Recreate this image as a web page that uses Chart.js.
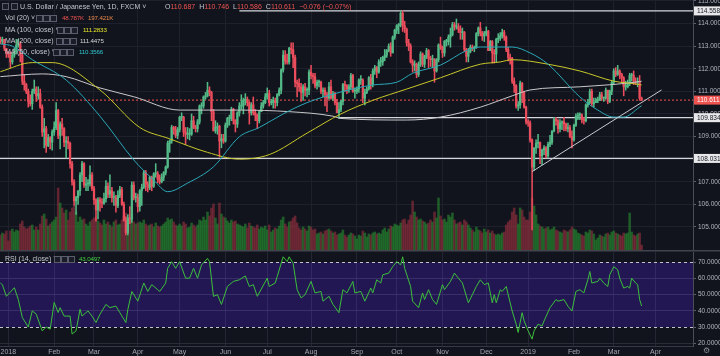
<!DOCTYPE html>
<html><head><meta charset="utf-8"><title>USDJPY 1D</title>
<script src="https://cdn.jsdelivr.net/npm/chart.js@4.4.1/dist/chart.umd.min.js"></script>
<style>
html,body{margin:0;padding:0;background:#12141d;overflow:hidden}
#wrap{position:relative;width:720px;height:356px;font-family:"Liberation Sans",Arial,sans-serif}
canvas{position:absolute;left:0}
#c1{top:0}
#c2{top:250px}
.t{position:absolute;font-size:7px;line-height:9px;color:#c3c6ce;white-space:nowrap;z-index:5}
.n{font-size:6.2px;letter-spacing:-0.15px}
.ic{position:absolute;width:5px;height:5px;border:1px solid #5a5e6c;background:#1a1d27;z-index:5}
.r{color:#ef5350}
.g{margin-left:4px}
</style></head><body>
<div id="wrap">
<canvas id="c1" width="720" height="250"></canvas>
<canvas id="c2" width="720" height="106"></canvas>

<span class="ic" style="left:2px;top:3px"></span><span class="ic" style="left:11px;top:3px"></span>
<span class="t" style="left:20px;top:1.5px">U.S. Dollar / Japanese Yen, 1D, FXCM ˅</span>
<span class="t" style="left:165px;top:1.5px">O<span class="r">110.687</span><span class="g">H</span><span class="r">110.746</span><span class="g">L</span><span class="r">110.586</span><span class="g">C</span><span class="r">110.611</span><span class="r g">−0.076 (−0.07%)</span></span>

<span class="t" style="left:5px;top:13px">Vol (20) ˅</span>
<span class="ic" style="left:36px;top:15px"></span><span class="ic" style="left:43px;top:15px"></span><span class="ic" style="left:50px;top:15px"></span>
<span class="t n" style="left:62px;top:13px;color:#ef5350">48.787K</span>
<span class="t n" style="left:88px;top:13px;color:#e8884a">197.421K</span>

<span class="t" style="left:5px;top:24.5px">MA (100, close) ˅</span>
<span class="ic" style="left:57px;top:26.5px"></span><span class="ic" style="left:64px;top:26.5px"></span><span class="ic" style="left:71px;top:26.5px"></span>
<span class="t n" style="left:83px;top:24.5px;color:#e6e629">111.2833</span>

<span class="t" style="left:5px;top:36px">MA (200, close) ˅</span>
<span class="ic" style="left:56px;top:38px"></span><span class="ic" style="left:63px;top:38px"></span><span class="ic" style="left:70px;top:38px"></span>
<span class="t n" style="left:80px;top:36px;color:#d6d6d6">111.4475</span>

<span class="t" style="left:5px;top:47px">MA (50, close) ˅</span>
<span class="ic" style="left:53px;top:49px"></span><span class="ic" style="left:60px;top:49px"></span><span class="ic" style="left:67px;top:49px"></span>
<span class="t n" style="left:79px;top:47px;color:#2ec6cf">110.3566</span>

<span class="t" style="left:5px;top:254px">RSI (14, close) ˅</span>
<span class="ic" style="left:54px;top:256px"></span><span class="ic" style="left:61px;top:256px"></span><span class="ic" style="left:68px;top:256px"></span>
<span class="t n" style="left:79px;top:254px;color:#3fcf3f">43.0497</span>
<span class="t" style="left:703px;top:346px;font-size:8px;color:#8a8d96">⚙</span>
</div>
<script>
// ---- categories: trading days from 26 Dec 2017 ----
const firstDay = [2017, 11, 26];
const slotCount = 348;
const monthNames = ['Jan','Feb','Mar','Apr','May','Jun','Jul','Aug','Sep','Oct','Nov','Dec'];

// ---- daily candles (index 0 = 26 Dec 2017, last = 21 Mar 2019) ----
const opens = [
113.3,113.2,113.3,112.9,112.7,112.65,112.3,112.6,112.75,113.05,
113.1,112.6,111.45,111.3,111.0,110.55,110.45,111.0,111.1,110.8,
110.9,110.3,109.2,109.35,108.6,108.95,108.75,109.2,109.4,110.15,
109.05,109.55,109.35,108.75,108.8,108.7,107.8,107.0,106.15,106.3,
106.6,107.3,107.8,106.85,106.9,106.9,107.3,106.7,106.2,105.75,
106.2,106.1,106.05,106.25,106.8,106.45,106.6,106.3,106.3,105.95,
106.4,106.65,106.0,105.3,104.75,105.4,105.35,106.85,106.3,106.3,
105.9,106.6,106.75,107.4,106.9,106.75,107.2,106.8,107.35,107.35,
107.1,107.0,107.2,107.4,107.65,108.7,108.8,109.4,109.3,109.05,
109.3,109.85,109.85,109.2,109.1,109.1,109.1,109.7,109.4,109.35,
109.65,110.35,110.35,110.75,110.8,111.05,110.95,110.1,109.25,109.4,
109.45,108.8,108.9,108.8,109.5,109.8,109.8,110.2,109.7,109.55,
110.05,110.35,110.35,110.6,110.65,110.5,110.05,110.4,110.05,109.95,
109.7,110.1,110.35,110.5,110.75,110.9,110.5,110.5,110.6,110.5,
110.85,111.05,111.95,112.6,112.35,112.3,112.9,112.85,112.5,111.4,
111.35,111.2,110.95,111.2,111.05,111.05,111.85,111.7,111.65,111.25,
111.4,111.4,111.0,111.05,110.85,110.7,111.2,110.7,110.9,110.5,
110.05,110.2,110.55,111.3,111.25,111.1,111.2,111.7,111.0,111.0,
111.1,111.5,111.5,110.7,110.95,111.1,111.6,111.3,111.9,112.05,
111.85,112.3,112.3,112.5,112.6,112.8,113.0,112.7,113.4,113.7,
113.9,113.95,114.45,113.9,113.75,113.15,113.0,112.3,112.15,112.2,
111.75,112.2,112.65,112.2,112.55,112.8,112.45,112.4,112.4,111.9,
112.4,113.05,112.95,112.7,113.2,113.2,113.4,113.5,113.95,113.85,
113.85,113.75,113.6,113.6,112.85,112.55,112.75,112.95,112.9,112.95,
113.55,113.8,113.6,113.45,113.55,113.65,112.8,113.2,112.7,112.65,
113.3,113.35,113.45,113.6,113.4,112.85,112.5,112.45,111.45,111.25,
110.35,110.4,111.35,110.95,110.3,109.65,109.6,108.85,107.65,108.5,
108.7,108.75,108.15,108.4,108.5,108.15,108.65,108.75,109.25,109.75,
109.7,109.35,109.6,109.65,109.55,109.35,109.4,109.0,108.85,109.5,
109.9,109.95,109.95,109.75,109.7,110.4,110.5,111.0,110.45,110.5,
110.6,110.6,110.85,110.7,110.7,111.05,110.55,111.0,111.4,111.9,
111.75,111.9,111.75,111.6,111.2,111.2,111.35,111.7,111.7,111.45,
111.4,111.4,110.687];
const highs = [
113.4,113.4,113.3,112.9,112.75,112.75,112.7,112.9,113.3,113.3,
113.2,112.7,111.75,111.35,111.1,110.85,111.1,111.5,111.2,111.2,
111.1,110.4,109.8,109.45,109.1,109.0,109.3,109.65,110.5,110.2,
109.65,109.8,109.4,109.0,109.0,108.75,107.9,107.1,106.35,106.6,
107.4,107.9,107.85,107.2,107.1,107.7,107.4,106.8,106.25,106.3,
106.3,106.25,106.5,107.05,106.95,107.3,106.75,106.55,106.4,106.6,
106.8,106.75,106.1,105.45,105.55,105.9,107.0,107.0,106.5,106.45,
106.65,106.9,107.5,107.5,107.0,107.25,107.25,107.4,107.8,107.45,
107.3,107.35,107.45,107.7,108.8,108.85,109.5,109.45,109.45,109.4,
109.9,110.05,109.9,109.4,109.4,109.35,110.0,109.9,109.5,109.75,
110.4,110.5,110.8,110.95,111.4,111.2,111.0,110.2,109.7,109.6,
109.5,109.1,109.1,109.6,109.85,109.95,110.3,110.25,109.75,110.1,
110.5,110.85,110.7,110.9,110.75,110.55,110.5,110.75,110.2,110.0,
110.15,110.5,110.6,110.9,111.15,111.05,110.65,110.75,110.7,110.9,
111.15,112.0,112.8,112.8,112.65,112.95,113.15,113.15,112.6,111.5,
111.55,111.35,111.3,111.35,111.15,111.95,112.15,111.8,111.8,111.5,
111.5,111.45,111.15,111.15,110.95,111.4,111.5,111.0,110.95,110.65,
110.5,110.6,111.35,111.45,111.3,111.3,111.8,111.75,111.15,111.2,
111.55,111.7,111.55,111.1,111.2,111.65,111.75,112.0,112.15,112.1,
112.4,112.5,112.55,112.85,112.85,113.1,113.15,113.45,113.75,113.95,
114.0,114.55,114.56,114.1,113.8,113.3,113.1,112.4,112.35,112.25,
112.3,112.75,112.7,112.6,112.9,112.85,112.55,112.6,112.45,112.45,
113.1,113.4,113.0,113.25,113.3,113.5,113.8,114.05,114.05,114.2,
114.0,113.9,113.8,113.65,112.9,112.9,113.05,113.05,113.0,113.6,
113.85,114.05,113.65,113.65,113.85,113.7,113.25,113.25,112.85,113.35,
113.55,113.6,113.75,113.7,113.45,112.95,112.65,112.5,111.6,111.3,
110.55,111.45,111.4,111.0,110.35,109.75,109.7,108.9,108.5,108.85,
109.1,108.75,108.45,108.6,108.55,108.75,109.05,109.25,109.85,109.85,
109.75,109.75,109.7,109.85,109.6,109.6,109.5,109.25,109.55,110.0,
110.05,110.05,110.0,109.85,110.45,110.65,111.1,111.1,110.7,110.7,
110.75,110.95,110.95,110.75,111.15,111.05,111.05,111.45,112.0,112.05,
112.15,111.95,111.8,111.65,111.45,111.5,111.8,111.8,111.9,111.6,
111.6,111.7,110.746];
const lows = [
113.1,113.1,112.8,112.5,112.5,112.05,112.2,112.5,112.65,112.95,
112.3,111.3,111.05,110.9,110.3,110.35,110.2,110.9,110.55,110.65,
110.25,109.0,108.5,108.3,108.55,108.45,108.4,109.05,109.3,108.9,
108.45,109.05,108.55,108.05,108.45,107.6,106.85,105.95,105.55,106.0,
106.4,107.0,106.75,106.6,106.6,106.8,106.6,106.0,105.25,105.35,
105.7,105.85,106.0,106.1,106.3,106.3,106.1,105.95,105.65,105.85,
106.3,105.95,105.25,104.65,104.65,105.15,105.2,106.2,106.1,105.65,
105.7,105.95,106.7,106.6,106.55,106.65,106.6,106.75,107.2,106.95,
106.9,106.95,107.05,107.3,107.6,108.3,108.7,109.1,108.95,108.9,
109.2,109.7,109.0,108.65,108.9,108.85,109.05,109.35,109.2,109.2,
109.55,110.0,110.25,110.65,110.75,110.8,109.7,109.25,109.15,109.1,
108.1,108.5,108.7,108.75,109.4,109.5,109.7,109.55,109.2,109.4,
109.9,110.2,110.0,110.4,110.35,109.55,109.95,109.95,109.7,109.35,
109.6,110.1,110.25,110.45,110.65,110.35,110.4,110.25,110.25,110.35,
110.8,110.9,111.85,112.2,112.2,112.2,112.65,112.05,111.2,110.75,
111.0,110.55,110.6,110.8,110.75,110.85,111.55,111.35,111.15,111.1,
111.2,110.9,110.75,110.35,110.1,110.65,110.65,110.6,110.4,110.05,
109.8,110.1,110.4,111.0,110.9,110.95,111.1,110.95,110.7,110.9,
110.95,111.3,110.5,110.4,110.9,111.05,111.1,111.2,111.75,111.6,
111.8,112.1,112.15,112.35,112.5,112.75,112.55,112.7,113.3,113.55,
113.55,113.85,113.65,113.6,113.0,112.8,112.25,111.85,111.9,111.6,
111.65,112.1,112.1,112.05,112.45,112.05,112.1,112.05,111.4,111.85,
112.3,112.85,112.5,112.55,113.0,113.05,112.95,113.45,113.7,113.75,
113.6,113.3,113.3,112.75,112.3,112.3,112.7,112.8,112.75,112.9,
113.45,113.45,113.25,113.2,113.45,112.8,112.8,112.25,112.25,112.3,
113.15,113.25,113.35,113.25,112.75,112.35,112.2,111.35,110.95,110.25,
110.15,110.25,110.5,110.25,109.55,109.45,108.75,104.87,107.5,108.25,
108.5,107.8,107.75,108.2,108.05,108.05,108.55,108.65,109.2,109.5,
109.15,109.2,109.3,109.25,109.25,109.2,108.95,108.5,108.8,109.45,
109.75,109.75,109.6,109.55,109.65,110.3,110.45,110.35,110.3,110.5,
110.5,110.6,110.6,110.55,110.65,110.45,110.5,110.85,111.3,111.65,
111.7,111.55,111.4,110.8,111.05,111.15,111.25,111.45,111.3,111.3,
111.2,110.6,110.586];
const closes = [
113.2,113.3,112.9,112.7,112.65,112.3,112.6,112.75,113.05,113.1,
112.6,111.45,111.3,111.0,110.55,110.45,111.0,111.1,110.8,110.9,
110.3,109.2,109.35,108.6,108.95,108.75,109.2,109.4,110.15,109.05,
109.55,109.35,108.75,108.8,108.7,107.8,107.0,106.15,106.3,106.6,
107.3,107.8,106.85,106.9,106.9,107.3,106.7,106.2,105.75,106.2,
106.1,106.05,106.25,106.8,106.45,106.6,106.3,106.3,105.95,106.4,
106.65,106.0,105.3,104.75,105.4,105.35,106.85,106.3,106.3,105.9,
106.6,106.75,107.4,106.9,106.75,107.2,106.8,107.35,107.35,107.1,
107.0,107.2,107.4,107.65,108.7,108.8,109.4,109.3,109.05,109.3,
109.85,109.85,109.2,109.1,109.1,109.1,109.7,109.4,109.35,109.65,
110.35,110.35,110.75,110.8,111.05,110.95,110.1,109.25,109.4,109.45,
108.8,108.9,108.8,109.5,109.8,109.8,110.2,109.7,109.55,110.05,
110.35,110.35,110.6,110.65,110.5,110.05,110.4,110.05,109.95,109.7,
110.1,110.35,110.5,110.75,110.9,110.5,110.5,110.6,110.5,110.85,
111.05,111.95,112.6,112.35,112.3,112.9,112.85,112.5,111.4,111.35,
111.2,110.95,111.2,111.05,111.05,111.85,111.7,111.65,111.25,111.4,
111.4,111.0,111.05,110.85,110.7,111.2,110.7,110.9,110.5,110.05,
110.2,110.55,111.3,111.25,111.1,111.2,111.7,111.0,111.0,111.1,
111.5,111.5,110.7,110.95,111.1,111.6,111.3,111.9,112.05,111.85,
112.3,112.3,112.5,112.6,112.8,113.0,112.7,113.4,113.7,113.9,
113.95,114.45,113.9,113.75,113.15,113.0,112.3,112.15,112.2,111.75,
112.2,112.65,112.2,112.55,112.8,112.45,112.4,112.4,111.9,112.4,
113.05,112.95,112.7,113.2,113.2,113.4,113.5,113.95,113.85,113.85,
113.75,113.6,113.6,112.85,112.55,112.75,112.95,112.9,112.95,113.55,
113.8,113.6,113.45,113.55,113.65,112.8,113.2,112.7,112.65,113.3,
113.35,113.45,113.6,113.4,112.85,112.5,112.45,111.45,111.25,110.35,
110.4,111.35,110.95,110.3,109.65,109.6,108.85,107.65,108.5,108.7,
108.75,108.15,108.4,108.5,108.15,108.65,108.75,109.25,109.75,109.7,
109.35,109.6,109.65,109.55,109.35,109.4,109.0,108.85,109.5,109.9,
109.95,109.95,109.75,109.7,110.4,110.5,111.0,110.45,110.5,110.6,
110.6,110.85,110.7,110.7,111.05,110.55,111.0,111.4,111.9,111.75,
111.9,111.75,111.6,111.2,111.2,111.35,111.7,111.7,111.45,111.4,
111.4,110.7,110.611];
// volume in thousands
const volumes = [
150,170,160,190,90,190,210,180,200,190,
260,290,230,210,220,240,250,200,230,200,
260,340,360,310,240,260,280,300,330,620,
470,420,370,400,300,380,420,440,380,280,
330,300,310,260,240,280,300,320,330,290,
270,250,300,260,280,250,230,280,300,250,
260,300,340,370,320,300,360,280,260,270,
280,270,300,260,240,250,260,230,270,240,
230,240,260,280,320,300,310,280,250,240,
260,240,280,260,220,230,270,250,230,250,
300,290,330,300,380,340,420,460,320,260,
470,360,330,320,290,270,300,280,290,260,
250,240,230,260,220,270,240,230,220,250,
210,230,220,240,200,250,180,200,220,210,
240,300,330,260,230,280,290,320,340,270,
220,200,230,210,190,240,230,200,210,160,
170,180,160,190,200,210,190,170,180,150,
160,170,200,150,130,150,170,160,140,110,
150,140,190,170,130,160,150,170,180,160,
170,160,200,220,180,210,240,230,260,250,
240,270,300,310,260,300,350,490,380,330,
300,310,290,280,260,270,300,280,380,320,
520,340,300,310,280,350,330,370,300,260,
270,280,250,300,280,250,220,200,180,230,
200,190,170,210,180,200,170,190,160,150,
160,150,170,180,250,280,300,380,420,350,
260,420,400,330,300,300,380,520,440,350,
260,240,230,210,220,230,200,210,230,200,
190,180,170,200,190,180,200,230,210,200,
170,160,150,140,180,170,200,190,160,100,
120,150,140,130,160,170,150,180,190,170,
160,150,140,170,160,170,370,180,150,140,
160,170,48.787];

// moving averages (bar index, value)
const ma100At  = [0,16,26,50,70,85,104,120,135,154,171,187,204,221,241,251,257,275,291,308,321,322];
const ma100Val = [111.87,112.27,112.27,111.06,109.4,108.9,108.3,108.0,108.2,109.15,110.0,110.6,111.1,111.6,112.2,112.3,112.4,112.2,111.9,111.45,111.3,111.28];
const ma200At  = [0,21,33,50,67,90,120,145,167,171,204,221,241,257,266,291,321,322];
const ma200Val = [111.65,111.77,111.65,111.15,110.76,110.17,110.17,110.1,109.9,109.8,109.73,109.86,110.3,110.8,111.06,111.2,111.43,111.4475];
const ma50At   = [0,6,16,33,50,67,77,84,94,107,120,130,142,154,171,187,199,207,221,234,241,257,266,275,291,300,308,313,321,322];
const ma50Val  = [113.1,113.0,112.4,111.5,109.9,107.96,107.07,106.56,106.94,107.66,108.99,109.4,110.0,110.5,110.97,111.28,111.4,111.8,112.16,112.8,112.96,112.96,112.7,112.2,110.75,110.17,109.86,109.86,110.3,110.36];

// drawn levels and trend line
const levels = [114.558, 109.834, 108.031];
const levelStart = [120, 170, -1];
const trendAt = [267, 332];
const trendVal = [107.45, 111.06];

// RSI (14)
const rsiAt = [0,1,3,7,9,11,14,16,18,21,23,25,27,29,30,32,35,36,38,40,41,44,46,48,50,53,55,58,60,63,64,66,69,72,74,76,79,80,83,84,86,88,90,93,95,97,99,101,104,105,107,109,111,114,117,120,
123,125,127,129,134,135,138,139,142,144,145,147,149,151,153,156,158,161,162,165,167,170,172,174,177,178,181,183,186,187,189,191,192,195,197,199,201,202,203,206,207,210,212,213,215,217,219,222,223,226,228,230,232,235,237,239,241,
243,245,247,248,249,251,252,254,256,257,259,260,262,263,265,267,268,270,272,273,276,279,280,283,285,287,289,291,293,295,296,297,300,301,303,305,306,308,310,311,313,315,316,317,319,320,321,322];
const rsiVal = [57.2,56.2,49,54.3,47,36,30,40,38,27.7,30,28.7,45.2,39,42,36.8,36.8,25.7,27.7,41,36.8,40,36.8,32.8,37.9,44,42,43,38.9,32.8,40.9,52,46,57.2,52,56.2,53.1,52,57.2,66.3,70.4,66.3,70.4,60.2,60.2,66.3,60.2,68.4,72.4,70.4,49,50,44,55.1,58.2,59.2,
61.6,55.1,56.2,49,60.2,55.1,57.2,61.2,73.4,70.4,73.4,69.4,53.1,48,50,58.2,51.1,52,46,49,44,38.9,53.1,51.1,58.2,51.1,52,46,54.1,51.1,59.2,57.2,62.3,63.3,67.3,70.4,68.4,73.4,66.3,55.1,46,42,51.1,47,53.1,47,44,56.2,53.1,58.2,63.3,60.2,57.2,45,50,55.1,59.2,
56.2,57.2,45,50,45,53.1,52,55.1,45,39.9,31.8,26.7,38.9,33.8,27.7,22.6,27.7,31.8,30.7,33.8,42,47,46,47,42.9,39.9,52,53.1,51.1,59.2,64.3,57.2,58.2,60.2,57.2,55.1,62.3,67.3,65.3,60.2,54.1,55.1,54.1,60.2,57.2,56.2,47,43.05];
const rsiLevels = [70, 30];

// ---------- build ----------
const dates = [];
{ const d = new Date(Date.UTC(firstDay[0], firstDay[1], firstDay[2]));
  while (dates.length < slotCount) { const w = d.getUTCDay(); if (w > 0 && w < 6) dates.push(new Date(d)); d.setUTCDate(d.getUTCDate() + 1); } }
const monthTicks = [];
for (let i = 1; i < dates.length; i++) {
  if (dates[i].getUTCMonth() !== dates[i-1].getUTCMonth()) {
    const m = dates[i].getUTCMonth();
    monthTicks.push({ i, label: m === 0 ? String(dates[i].getUTCFullYear()) : monthNames[m] });
  }
}
const xMin = -0.2, xMax = slotCount - 0.2;
const n = Math.min(opens.length, highs.length, lows.length, closes.length);
const UP = '#53b987', DN = '#eb4d5c';
const candleCol = [], volCol = [], wick = [], body = [], vol = [];
for (let i = 0; i < n; i++) {
  const isUp = closes[i] >= opens[i];
  candleCol.push(isUp ? UP : DN);
  volCol.push(isUp ? 'rgba(38,140,48,0.6)' : 'rgba(150,48,64,0.6)');
  wick.push({ x: i, y: [lows[i], highs[i]] });
  body.push({ x: i, y: [opens[i], closes[i]] });
  vol.push({ x: i, y: volumes[i] || 0 });
}
const pts = (at, val) => at.map((x, k) => ({ x, y: val[k] })).filter(p => p.y != null);
const monthTickBuild = a => { a.ticks = monthTicks.map(t => ({ value: t.i })); };
const FONT = '"Liberation Sans", Arial, sans-serif';

const lineDs = (data, color, order, extra) => Object.assign({
  type: 'line', data, borderColor: color, borderWidth: 1, pointRadius: 0,
  cubicInterpolationMode: 'monotone', yAxisID: 'y', order, fill: false
}, extra || {});

const lastClose = closes[n - 1];
const badges = [
  { v: levels[0], bg: '#e8e8ea', fg: '#131722' },
  { v: lastClose, bg: '#ef5350', fg: '#ffffff' },
  { v: levels[1], bg: '#e8e8ea', fg: '#131722' },
  { v: levels[2], bg: '#e8e8ea', fg: '#131722' }
];
const badgePlugin = {
  id: 'badges',
  afterDraw(chart) {
    const { ctx, scales: { y }, chartArea: a } = chart;
    ctx.save();
    ctx.font = '6.5px ' + FONT; ctx.textBaseline = 'middle'; ctx.textAlign = 'left';
    for (const b of badges) {
      const py = y.getPixelForValue(b.v);
      ctx.fillStyle = b.bg; ctx.fillRect(a.right + 1, py - 4.5, 720 - a.right - 1, 9);
      ctx.fillStyle = b.fg; ctx.fillText(b.v.toFixed(3), a.right + 4, py + 0.5);
    }
    ctx.restore();
  }
};

const datasets1 = [
  { type: 'bar', label: 'Volume', data: vol, yAxisID: 'yv', backgroundColor: volCol, barThickness: 1.9, grouped: false, order: 10 },
  lineDs([{ x: xMin, y: lastClose }, { x: xMax, y: lastClose }], '#ef5350', 9, { borderDash: [2, 2], cubicInterpolationMode: 'default' }),
  ...levels.map((lv, k) => lineDs([{ x: levelStart[k] < 0 ? xMin : levelStart[k], y: lv }, { x: xMax, y: lv }], '#d4d6dc', 8, { borderWidth: 1.2, cubicInterpolationMode: 'default' })),
  { type: 'bar', label: 'wick', data: wick, yAxisID: 'y', backgroundColor: candleCol, barThickness: 0.9, grouped: false, order: 6 },
  { type: 'bar', label: 'body', data: body, yAxisID: 'y', backgroundColor: candleCol, barThickness: 1.6, minBarLength: 1, grouped: false, order: 5 },
  lineDs(pts(ma200At, ma200Val), '#c9c9cc', 4),
  lineDs(pts(ma100At, ma100Val), '#c8c82a', 3),
  lineDs(pts(ma50At, ma50Val), '#2aa9b8', 2),
  lineDs(pts(trendAt, trendVal), '#c8cad0', 1, { cubicInterpolationMode: 'default' })
];

new Chart(document.getElementById('c1'), {
  type: 'bar',
  data: { datasets: datasets1 },
  options: {
    responsive: false, animation: false, events: [],
    layout: { padding: 0 },
    plugins: { legend: { display: false }, tooltip: { enabled: false } },
    scales: {
      x: { type: 'linear', min: xMin, max: xMax, bounds: 'data', offset: false,
           afterBuildTicks: monthTickBuild,
           ticks: { display: false },
           grid: { color: '#1e212b', drawTicks: false, offset: false },
           border: { display: false },
           afterFit: a => { a.height = 0; a.paddingLeft = 0; a.paddingRight = 0; } },
      y: { position: 'right', min: 103.98, max: 115.04, bounds: 'data',
           afterBuildTicks: a => { const t = []; for (let v = 105; v <= 115; v++) t.push({ value: v }); a.ticks = t; },
           ticks: { color: '#b2b5be', font: { size: 6.5, family: FONT }, padding: 2, callback: v => Number(v).toFixed(3) },
           grid: { color: '#1e212b', tickLength: 3, tickColor: '#5d606b' },
           border: { color: '#4a4d57' },
           afterFit: a => { a.width = 27; a.paddingTop = 0; a.paddingBottom = 0; } },
      yv: { display: false, min: 0, max: 2500 }
    }
  },
  plugins: [badgePlugin]
});

// ---------- RSI pane ----------
const rsiPlugin = {
  id: 'rsiBand',
  beforeDraw(chart) {
    const { ctx, chartArea: a, scales: { y } } = chart;
    ctx.save();
    const y70 = y.getPixelForValue(rsiLevels[0]), y30 = y.getPixelForValue(rsiLevels[1]);
    ctx.fillStyle = '#221752';
    ctx.fillRect(a.left, y70, a.right - a.left, y30 - y70);
    ctx.fillStyle = '#41444f';
    ctx.fillRect(0, 0, chart.width, 1.5);
    ctx.restore();
  },
  beforeDatasetsDraw(chart) {
    const { ctx, chartArea: a, scales: { y } } = chart;
    ctx.save();
    ctx.strokeStyle = '#c2c4ca'; ctx.lineWidth = 1; ctx.setLineDash([3, 3]);
    for (const lv of rsiLevels) {
      const py = Math.round(y.getPixelForValue(lv)) + 0.5;
      ctx.beginPath(); ctx.moveTo(a.left, py); ctx.lineTo(a.right, py); ctx.stroke();
    }
    ctx.restore();
  }
};

new Chart(document.getElementById('c2'), {
  type: 'line',
  data: { datasets: [{
    label: 'RSI', data: pts(rsiAt, rsiVal), borderColor: '#3cbf3c', borderWidth: 1,
    pointRadius: 0, tension: 0, fill: false
  }] },
  options: {
    responsive: false, animation: false, events: [],
    layout: { padding: { top: 2 } },
    plugins: { legend: { display: false }, tooltip: { enabled: false } },
    scales: {
      x: { type: 'linear', min: xMin, max: xMax, bounds: 'data', offset: false,
           afterBuildTicks: monthTickBuild,
           ticks: { color: '#a3a6af', font: { size: 7, family: FONT }, padding: 2, maxRotation: 0, autoSkip: false,
                    callback: v => { const t = monthTicks.find(m => m.i === v); return t ? t.label : ''; } },
           grid: { color: 'rgba(170,170,210,0.12)', drawTicks: false },
           border: { color: '#363945' },
           afterFit: a => { a.height = 10; a.paddingLeft = 0; a.paddingRight = 0; } },
      y: { position: 'right', min: 18.33, max: 76.36, bounds: 'data',
           afterBuildTicks: a => { a.ticks = [20, 30, 40, 50, 60, 70].map(v => ({ value: v })); },
           ticks: { color: '#b2b5be', font: { size: 6.5, family: FONT }, padding: 2, callback: v => Number(v).toFixed(4) },
           grid: { color: c => { const v = c.tick && c.tick.value; return (v === 40 || v === 50 || v === 60) ? '#3a3068' : (v === 20 ? '#2a2d38' : 'rgba(0,0,0,0)'); },
                   tickLength: 3, tickColor: '#5d606b' },
           border: { color: '#4a4d57' },
           afterFit: a => { a.width = 27; a.paddingTop = 0; a.paddingBottom = 0; } }
    }
  },
  plugins: [rsiPlugin]
});
</script>
</body></html>
